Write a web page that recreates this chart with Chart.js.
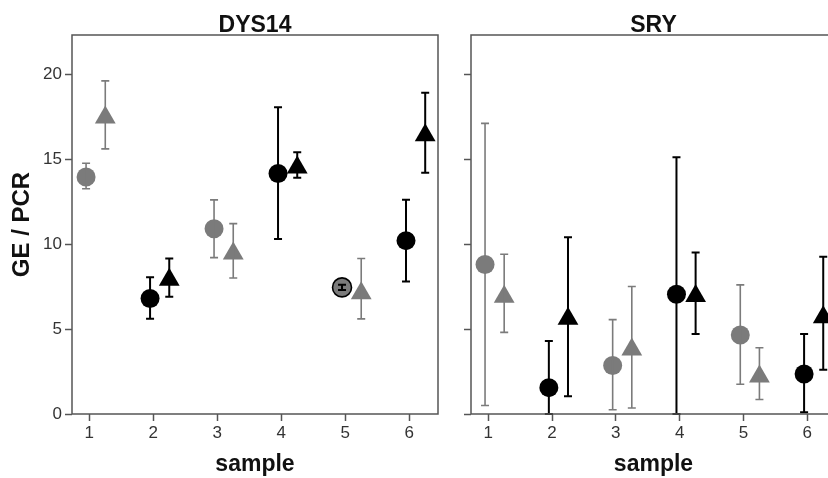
<!DOCTYPE html>
<html>
<head>
<meta charset="utf-8">
<script src="https://cdn.jsdelivr.net/npm/chart.js@4.4.1/dist/chart.umd.min.js"></script>
<style>
    html, body { margin: 0; padding: 0; background: #fff; }
    body { width: 828px; height: 478px; overflow: hidden; position: relative; }
    #dys14 { position: absolute; left: 0; top: 0; }
    #sry { position: absolute; left: 450px; top: 0; }
</style>
</head>
<body>
<canvas id="dys14" width="450" height="478"></canvas>
<canvas id="sry" width="420" height="478"></canvas>
<script>
const samples = [1, 2, 3, 4, 5, 6];
const sampleTicks = ['1', '2', '3', '4', '5', '6'];
const yTickValues = [0, 5, 10, 15, 20];
// odd samples are drawn grey, even ones black
const sampleGroup = ['A', 'B', 'A', 'B', 'A', 'B'];

// DYS14 panel
const dysCircle   = [13.95, 6.8, 10.9, 14.15, 7.45, 10.2];
const dysCircleLo = [13.25, 5.6, 9.2, 10.3, 7.3, 7.8];
const dysCircleHi = [14.75, 8.05, 12.6, 18.05, 7.6, 12.6];
const dysTri      = [17.45, 7.9, 9.45, 14.5, 7.1, 16.4];
const dysTriLo    = [15.6, 6.9, 8.0, 13.9, 5.6, 14.2];
const dysTriHi    = [19.6, 9.15, 11.2, 15.4, 9.15, 18.9];

// SRY panel
const sryCircle   = [8.8, 1.55, 2.85, 7.05, 4.65, 2.35];
const sryCircleLo = [0.5, 0, 0.25, 0, 1.75, 0.1];
const sryCircleHi = [17.1, 4.3, 5.55, 15.1, 7.6, 4.7];
const sryTri      = [6.9, 5.6, 3.8, 6.95, 2.2, 5.7];
const sryTriLo    = [4.8, 1.05, 0.35, 4.7, 0.85, 2.6];
const sryTriHi    = [9.4, 10.4, 7.5, 9.5, 3.9, 9.25];

const groupColor = { A: '#7b7b7b', B: '#000000' };
const CIRCLE_SHIFT = -0.05;
const TRI_SHIFT = 0.25;
const FONT = "'Liberation Sans', Arial, sans-serif";

function points(values, lo, hi, shift) {
    return values.map((v, i) => ({ x: samples[i] + shift, y: v, lo: lo[i], hi: hi[i] }));
}

const errorBars = {
    id: 'errorBars',
    afterDatasetsDraw(chart) {
        const { ctx } = chart;
        const x = chart.scales.x, y = chart.scales.y;
        ctx.save();
        ctx.lineCap = 'butt';
        chart.data.datasets.forEach(ds => {
            ds.data.forEach((pt, i) => {
                const col = ds.errColor[i];
                const px = x.getPixelForValue(pt.x);
                const top = y.getPixelForValue(pt.hi);
                const bot = y.getPixelForValue(pt.lo);
                ctx.strokeStyle = col;
                ctx.lineWidth = col === '#000000' ? 2 : 1.6;
                ctx.beginPath();
                ctx.moveTo(px, top);
                ctx.lineTo(px, bot);
                ctx.moveTo(px - 4, top);
                ctx.lineTo(px + 4, top);
                ctx.moveTo(px - 4, bot);
                ctx.lineTo(px + 4, bot);
                ctx.stroke();
            });
        });
        ctx.restore();
    }
};

const frame = {
    id: 'frame',
    afterDraw(chart, args, opts) {
        const { ctx, chartArea: a } = chart;
        ctx.save();
        ctx.strokeStyle = '#555';
        ctx.lineWidth = 1.5;
        ctx.strokeRect(a.left, a.top, a.right - a.left, a.bottom - a.top);
        ctx.fillStyle = '#111';
        ctx.font = 'bold 23px ' + FONT;
        ctx.textAlign = 'center';
        ctx.textBaseline = 'alphabetic';
        ctx.fillText(opts.text, (a.left + a.right) / 2, 32);
        ctx.restore();
    }
};

function buildPanel(canvasId, title, circle, circleLo, circleHi, tri, triLo, triHi, opt) {
    const colors = sampleGroup.map(g => groupColor[g]);
    const circleBorder = colors.map((c, i) => (i === opt.outlined ? '#000000' : c));
    const circleBorderW = colors.map((c, i) => (i === opt.outlined ? 1.6 : 0));

    return new Chart(document.getElementById(canvasId), {
        type: 'scatter',
        data: {
            datasets: [
                {
                    label: 'circle',
                    data: points(circle, circleLo, circleHi, CIRCLE_SHIFT),
                    pointStyle: 'circle',
                    pointRadius: 9.5,
                    backgroundColor: colors,
                    borderColor: circleBorder,
                    borderWidth: circleBorderW,
                    errColor: circleBorder
                },
                {
                    label: 'triangle',
                    data: points(tri, triLo, triHi, TRI_SHIFT),
                    pointStyle: 'triangle',
                    pointRadius: 12,
                    backgroundColor: colors,
                    borderColor: colors,
                    borderWidth: 0,
                    errColor: colors
                }
            ]
        },
        options: {
            responsive: false,
            animation: false,
            events: [],
            layout: { padding: { top: 35, right: opt.padRight, bottom: 0, left: 0 } },
            plugins: {
                legend: { display: false },
                tooltip: { enabled: false },
                title: { display: false },
                frame: { text: title }
            },
            scales: {
                x: {
                    type: 'linear',
                    min: 0.73,
                    max: 6.45,
                    afterBuildTicks: s => { s.ticks = samples.map(v => ({ value: v })); },
                    afterFit: s => { s.height = 64; },
                    ticks: {
                        callback: (v) => sampleTicks[samples.indexOf(v)],
                        color: '#333',
                        font: { family: FONT, size: 17 },
                        padding: 2,
                        maxRotation: 0
                    },
                    grid: { drawOnChartArea: false, drawTicks: true, tickLength: 7, tickWidth: 1.5, tickColor: '#555' },
                    border: { display: false },
                    title: {
                        display: true,
                        text: 'sample',
                        color: '#111',
                        font: { family: FONT, size: 23, weight: 'bold' },
                        padding: { top: 0, bottom: 0 }
                    }
                },
                y: {
                    min: 0,
                    max: 22.3,
                    afterBuildTicks: s => { s.ticks = yTickValues.map(v => ({ value: v })); },
                    afterFit: s => { s.width = opt.yWidth; },
                    ticks: {
                        callback: v => (opt.yLabels ? String(v) : ''),
                        color: '#333',
                        font: { family: FONT, size: 17 },
                        padding: 3
                    },
                    grid: { drawOnChartArea: false, drawTicks: true, tickLength: 7, tickWidth: 1.5, tickColor: '#555' },
                    border: { display: false },
                    title: {
                        display: opt.yLabels,
                        text: 'GE / PCR',
                        color: '#111',
                        font: { family: FONT, size: 24, weight: 'bold' },
                        padding: { top: 8, bottom: 0 }
                    }
                }
            }
        },
        plugins: [errorBars, frame]
    });
}

buildPanel('dys14', 'DYS14', dysCircle, dysCircleLo, dysCircleHi, dysTri, dysTriLo, dysTriHi,
    { outlined: 4, padRight: 12, yWidth: 72, yLabels: true });
buildPanel('sry', 'SRY', sryCircle, sryCircleLo, sryCircleHi, sryTri, sryTriLo, sryTriHi,
    { outlined: -1, padRight: 34, yWidth: 21, yLabels: false });
</script>
</body>
</html>
